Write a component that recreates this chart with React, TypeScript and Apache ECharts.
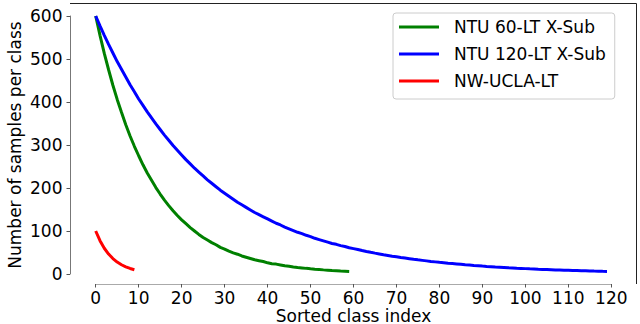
import React, { useEffect, useRef } from "react";
import * as echarts from "echarts";

const seriesNames = ["NTU 60-LT X-Sub", "NTU 120-LT X-Sub", "NW-UCLA-LT"];

const ntu60 = [
  600, 555, 513, 475, 439, 406, 376, 347, 321, 297,
  275, 254, 235, 218, 201, 186, 172, 159, 147, 136,
  126, 117, 108, 100, 92, 85, 79, 73, 68, 62,
  58, 53, 49, 46, 42, 39, 36, 33, 31, 29,
  26, 24, 23, 21, 19, 18, 16.5, 15.3, 14.2, 13.1,
  12.1, 11.2, 10.4, 9.6, 8.9, 8.2, 7.6, 7.0, 6.5, 6.0,
];

const ntu120 = [
  600, 577, 555, 534, 514, 494, 476, 458, 440, 424,
  407, 392, 377, 363, 349, 336, 323, 311, 299, 288,
  277, 266, 256, 246, 237, 228, 219, 211, 203, 195,
  188, 181, 174, 167, 161, 155, 149, 143, 138, 133,
  128, 123, 118, 114, 109, 105, 101, 97, 94, 90,
  87, 83, 80, 77, 74, 71, 69, 66, 64, 61,
  59, 57, 54.5, 52.4, 50.4, 48.5, 46.7, 44.9, 43.2, 41.5,
  40, 38.4, 37, 35.6, 34.2, 32.9, 31.7, 30.5, 29.3, 28.2,
  27.1, 26.1, 25.1, 24.2, 23.3, 22.4, 21.5, 20.7, 19.9, 19.2,
  18.4, 17.7, 17.1, 16.4, 15.8, 15.2, 14.6, 14.1, 13.5, 13.0,
  12.5, 12.0, 11.6, 11.1, 10.7, 10.3, 9.9, 9.5, 9.2, 8.8,
  8.5, 8.2, 7.9, 7.6, 7.3, 7.0, 6.7, 6.5, 6.2, 6.0,
];

const nwucla = [100, 77.4, 59.9, 46.4, 35.9, 27.8, 21.5, 16.7, 12.9, 10.0];

const seriesColors = ["#008000", "#0000ff", "#ff0000"];
const xTickInterval = 10;
const yTickInterval = 100;

const FONT = "DejaVu Sans";

export default function App() {
  const ref = useRef<HTMLDivElement>(null);

  useEffect(() => {
    if (!ref.current) return;
    const chart = echarts.init(ref.current, undefined, { renderer: "svg" });
    const allData = [ntu60, ntu120, nwucla];
    chart.setOption({
      animation: false,
      backgroundColor: "#ffffff",
      grid: {
        left: 95.7,
        right: 28.7,
        top: 16,
        bottom: 50,
        containLabel: false,
        outerBoundsMode: "none",
      },
      xAxis: {
        type: "value",
        min: 0,
        max: 120,
        interval: xTickInterval,
        offset: 10,
        name: "Sorted class index",
        nameLocation: "middle",
        nameGap: 25,
        nameMoveOverlap: false,
        nameTextStyle: { fontFamily: FONT, fontSize: 17, color: "#000", lineHeight: 14 },
        axisLine: { show: true, onZero: false, lineStyle: { color: "#aaaaaa", width: 1 } },
        axisTick: { show: true, length: 3.5, lineStyle: { color: "#555", width: 1 } },
        axisLabel: { fontFamily: FONT, fontSize: 17, color: "#000", margin: 5, lineHeight: 17 },
        splitLine: { show: false },
      },
      yAxis: {
        type: "value",
        min: 0,
        max: 600,
        interval: yTickInterval,
        offset: 25.7,
        name: "Number of samples per class",
        nameLocation: "middle",
        nameGap: 47,
        nameMoveOverlap: false,
        nameTextStyle: { fontFamily: FONT, fontSize: 17, color: "#000" },
        axisLine: { show: true, onZero: false, lineStyle: { color: "#777", width: 1 } },
        axisTick: { show: true, length: 3.5, lineStyle: { color: "#555", width: 1 } },
        axisLabel: { fontFamily: FONT, fontSize: 17, color: "#000", margin: 7.5 },
        splitLine: { show: false },
      },
      legend: {
        orient: "vertical",
        left: 393,
        top: 13,
        padding: [4, 9, 8, 6],
        backgroundColor: "#ffffff",
        borderColor: "#cccccc",
        borderWidth: 1,
        borderRadius: 3,
        icon: "rect",
        itemWidth: 40,
        itemHeight: 3,
        itemGap: 7,
        textStyle: {
          fontFamily: FONT,
          fontSize: 17,
          color: "#000",
          lineHeight: 20,
          padding: [0, 0, 0, 10],
        },
        data: seriesNames,
      },
      graphic: [
        {
          type: "polyline",
          shape: { points: [[70, 3.5], [636.5, 3.5], [636.5, 284]] },
          style: { fill: "none", stroke: "#222", lineWidth: 1 },
          silent: true,
          z: 1,
        },
      ],
      series: seriesNames.map((name, k) => ({
        name,
        type: "line",
        showSymbol: false,
        symbol: "none",
        color: seriesColors[k],
        lineStyle: { color: seriesColors[k], width: 3 },
        data: allData[k].map((v, i) => [i, v]),
        z: 2 + k,
      })),
    });
    return () => chart.dispose();
  }, []);

  return <div ref={ref} style={{ width: 640, height: 324, position: "absolute", left: 0, top: 0 }} />;
}
